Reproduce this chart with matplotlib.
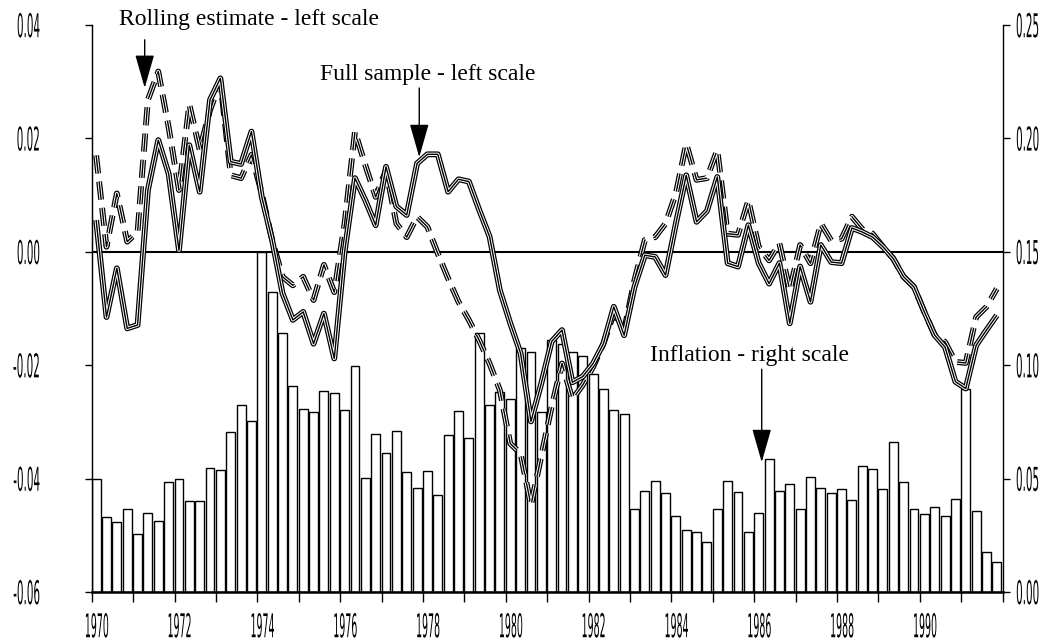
import numpy as np
import matplotlib
matplotlib.use('Agg')
import matplotlib.pyplot as plt
from matplotlib.patheffects import AbstractPathEffect
from matplotlib.transforms import Affine2D

# quarterly data, 1970Q1 - 1991Q4
quarters = np.arange(1970, 1992, 0.25)

inflation = [0.050, 0.033, 0.031, 0.0365,
             0.0256, 0.035, 0.0315, 0.0484,
             0.050, 0.040, 0.040, 0.0546,
             0.0538, 0.0707, 0.0825, 0.0754,
             0.150, 0.1325, 0.114, 0.0907,
             0.0807, 0.0795, 0.0887, 0.0877,
             0.0804, 0.0996, 0.0501, 0.0697,
             0.0612, 0.0709, 0.0528, 0.046,
             0.0535, 0.0429, 0.0694, 0.0799,
             0.068, 0.1143, 0.0825, 0.0881,
             0.0852, 0.1074, 0.1058, 0.0796,
             0.111, 0.1094, 0.106, 0.1041,
             0.0962, 0.0894, 0.0802, 0.0785,
             0.0368, 0.0446, 0.0491, 0.0437,
             0.0334, 0.0275, 0.0266, 0.0219,
             0.0368, 0.0491, 0.044, 0.0265,
             0.0349, 0.0588, 0.0446, 0.0475,
             0.0366, 0.0507, 0.046, 0.0437,
             0.0456, 0.0407, 0.0556, 0.0544,
             0.0453, 0.0662, 0.0485, 0.0368,
             0.0345, 0.0374, 0.0337, 0.0409,
             0.0894, 0.0356, 0.0175, 0.0131]

full_sample = [0.0056, -0.0115, -0.0029, -0.0135, -0.0129, 0.0109, 0.0197, 0.0138,
               0.0003, 0.0188, 0.0106, 0.0268, 0.0306, 0.0159, 0.0155, 0.0212,
               0.0097, 0.0021, -0.0073, -0.012, -0.0106, -0.0162, -0.0109, -0.0188,
               0.000, 0.013, 0.0091, 0.0047, 0.015, 0.008, 0.0065, 0.0156,
               0.0172, 0.0172, 0.0106, 0.0128, 0.0124, 0.0074, 0.0027, -0.0068,
               -0.0126, -0.0179, -0.0299, -0.0232, -0.0158, -0.0138, -0.023, -0.022,
               -0.0197, -0.0162, -0.0097, -0.0147, -0.0062, -0.0006, -0.0009, -0.0041,
               0.005, 0.0135, 0.0053, 0.0072, 0.0132, -0.002, -0.0026, 0.0047,
               -0.002, -0.0056, -0.002, -0.0126, -0.0026, -0.0088, 0.0012, -0.0018,
               -0.002, 0.0042, 0.0035, 0.0026, 0.0009, -0.0012, -0.0044, -0.0062,
               -0.0106, -0.0147, -0.0168, -0.0229, -0.0241, -0.0165, -0.0138, -0.0112]

rolling = [0.017, 0.0009, 0.0103, 0.0018, 0.0035, 0.0268, 0.0318, 0.022,
           0.0109, 0.026, 0.018, 0.025, 0.030, 0.0135, 0.013, 0.0171,
           0.0103, 0.0021, -0.0044, -0.0059, -0.0044, -0.0085, -0.0023, -0.0071,
           0.005, 0.0212, 0.0153, 0.0097, 0.0144, 0.005, 0.0026, 0.0062,
           0.0044, -0.0003, -0.0047, -0.0088, -0.012, -0.0156, -0.0197, -0.0244,
           -0.0338, -0.0356, -0.0447, -0.036, -0.0273, -0.0197, -0.026, -0.0235,
           -0.0203, -0.0162, -0.0109, -0.0138, -0.005, 0.0021, 0.0026, 0.005,
           0.0103, 0.0191, 0.0127, 0.013, 0.018, 0.0032, 0.003, 0.0091,
           0.0009, -0.0015, 0.0015, -0.0068, 0.0012, -0.002, 0.005, 0.002,
           0.0023, 0.0062, 0.004, 0.0032, 0.0009, -0.0012, -0.0044, -0.0062,
           -0.0106, -0.0147, -0.0159, -0.0194, -0.0196, -0.0115, -0.0097, -0.0065]

year_ticks = np.arange(1970, 1993)
year_labels = [str(y) if y % 2 == 0 and y < 1992 else '' for y in year_ticks]
left_ticks = [-0.06, -0.04, -0.02, 0.00, 0.02, 0.04]
right_ticks = [0.00, 0.05, 0.10, 0.15, 0.20, 0.25]

plt.rcParams['lines.scale_dashes'] = False
plt.rcParams['axes.unicode_minus'] = False
tick_font = dict(family='DejaVu Sans', size=11.5)
note_font = dict(family=['Liberation Serif', 'DejaVu Serif'], size=17)

bar_width = 0.215


class Condensed(AbstractPathEffect):
    # squeeze the glyphs sideways and stretch them up, like the narrow
    # font used for the axis numbers in the original
    def __init__(self, xanchor='center', sx=0.65, sy=2.05, dx=0):
        super().__init__()
        self.xanchor, self.sx, self.sy, self.dx = xanchor, sx, sy, dx

    def draw_path(self, renderer, gc, tpath, affine, rgbFace=None):
        ext = tpath.get_extents()
        cx = {'left': ext.x0, 'right': ext.x1}.get(self.xanchor, (ext.x0 + ext.x1) / 2)
        cy = (ext.y0 + ext.y1) / 2
        squeeze = Affine2D().translate(-cx, -cy).scale(self.sx, self.sy).translate(cx, cy)
        shift = Affine2D().translate(self.dx, 0)
        renderer.draw_path(gc, tpath, squeeze + affine + shift, rgbFace)


def double_line(ax, x, y, dashed):
    ls = (0, (13, 6)) if dashed else '-'
    ax.plot(x, y, color='black', lw=4.2, ls=ls, solid_capstyle='butt')
    ax.plot(x, y, color='white', lw=2.4, ls=ls, solid_capstyle='butt')
    ax.plot(x, y, color='black', lw=1.0, ls=ls, solid_capstyle='butt')


def arrow(ax, x, y_tail, y_tip):
    ax.annotate('', xy=(x, y_tip), xytext=(x, y_tail),
                arrowprops=dict(arrowstyle='-|>,head_length=1.4,head_width=0.4',
                                color='black', lw=1, mutation_scale=15,
                                shrinkA=0, shrinkB=0))


fig = plt.figure(figsize=(10.42, 6.44), dpi=100)
ax = fig.add_axes([0.088, 0.0807, 0.8743, 0.8804])
ax2 = ax.twinx()

# inflation bars on the right scale, behind the lines
ax2.bar(quarters, inflation, bar_width, align='edge',
        color='white', edgecolor='black', linewidth=1)
ax2.set_ylim(0, 0.25)
ax2.set_yticks(right_ticks)
ax2.set_yticklabels(['%.2f' % v for v in right_ticks], ha='right', **tick_font)
ax2.tick_params(axis='y', direction='out', length=5, width=1, pad=21.5)

ax.set_zorder(ax2.get_zorder() + 1)
ax.patch.set_visible(False)

x_line = quarters + bar_width / 2
ax.axhline(0, color='black', lw=1.5)
double_line(ax, x_line, rolling, True)
double_line(ax, x_line, full_sample, False)

ax.set_xlim(1970, 1992)
ax.set_ylim(-0.06, 0.04)
ax.set_yticks(left_ticks)
ax.set_yticklabels(['%.2f' % v for v in left_ticks], **tick_font)
ax.set_xticks(year_ticks)
ax.set_xticklabels(year_labels, **tick_font)
ax.tick_params(axis='y', direction='out', length=5, width=1, pad=32)
ax.tick_params(axis='x', direction='out', length=7, width=1, pad=12.5)

for lab in ax.get_yticklabels() + ax2.get_yticklabels():
    lab.set_path_effects([Condensed('right')])
for lab in ax.get_xticklabels():
    lab.set_path_effects([Condensed('center', sx=0.59, dx=5)])

for a in (ax, ax2):
    a.spines['top'].set_visible(False)
ax.spines['bottom'].set_linewidth(1.8)
ax.spines['left'].set_linewidth(1)
ax2.spines['right'].set_linewidth(1)
ax2.spines['right'].set_color('#444444')

# annotations
ax.text(1973.79, 0.0409, 'Rolling estimate - left scale', ha='center', va='center', **note_font)
arrow(ax, 1971.28, 0.0374, 0.0289)
ax.text(1978.12, 0.0312, 'Full sample - left scale', ha='center', va='center', **note_font)
arrow(ax, 1977.91, 0.0289, 0.0167)
ax.text(1985.89, -0.0182, 'Inflation - right scale', ha='center', va='center', **note_font)
arrow(ax, 1986.18, -0.0207, -0.0371)

fig.savefig('out.png', dpi=100)
